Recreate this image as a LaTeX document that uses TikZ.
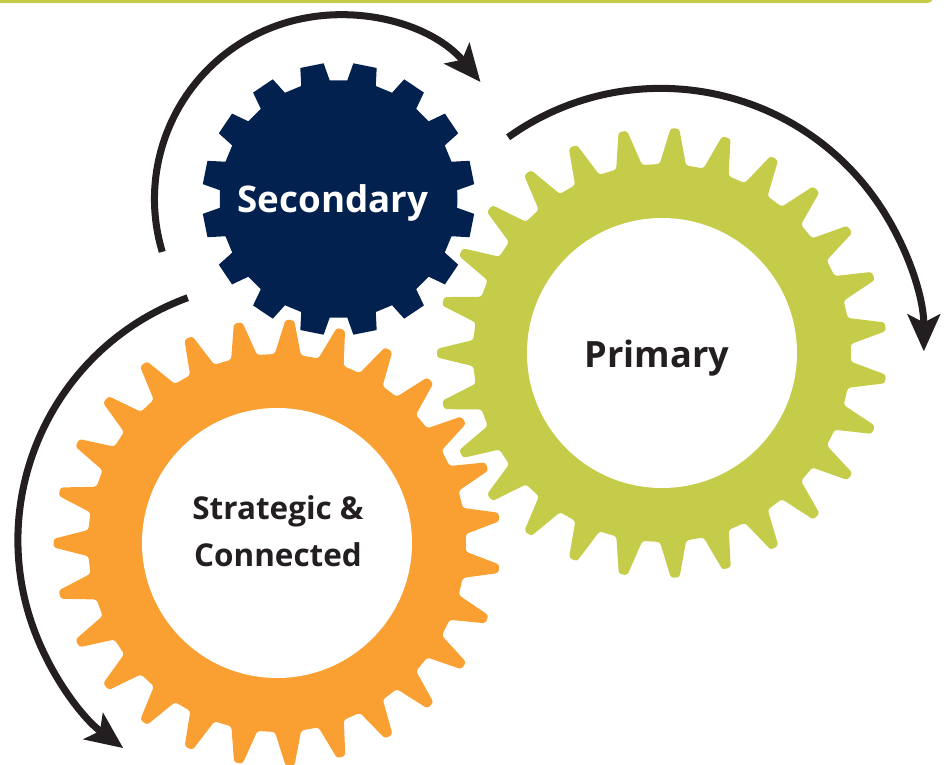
\documentclass[tikz,border=0pt]{standalone}
\usepackage{fontspec}
\setmainfont{Open Sans}
\usetikzlibrary{arrows.meta}
\definecolor{gearnavy}{HTML}{03214F}
\definecolor{gearolive}{HTML}{C4CC49}
\definecolor{gearorange}{HTML}{FAA033}
\definecolor{arrowdark}{HTML}{231F20}
\tikzset{
    hub/.style={circle,fill=white,minimum size=2.7cm,inner sep=0pt},
    label/.style={font=\bfseries\fontsize{#1}{13.4}\selectfont,text=arrowdark,align=center},
    turn/.style={draw=arrowdark,line width=2pt,-{Stealth[length=10.5pt,width=9.2pt,inset=2.3pt]}}
}
% #1 colour, #2 centre, #3 teeth, #4 first tooth, #5 root radius, #6 tip radius, #7 base half angle, #8 tip half angle
\newcommand{\gear}[8]{%
    \fill[#1,shift={(#2)}] (#4-180/#3:#5)
        foreach \t [evaluate=\t as \a using #4+(\t-1)*360/#3] in {1,...,#3}
        { -- (\a-#7:#5) -- (\a-#8:#6) -- (\a+#8:#6) -- (\a+#7:#5) } -- cycle;
}
\begin{document}
\begin{tikzpicture}[scale=1]
    \clip (0,0) rectangle (9.46,7.64);
    \fill[gearolive,rounded corners=1.5pt] (-0.2,7.61) rectangle (9.33,7.8);

    \coordinate (secondarycentre) at (3.385,5.65);
    \coordinate (primarycentre) at (6.62,4.11);
    \coordinate (strategiccentre) at (2.77,2.21);

    \gear{gearnavy}{secondarycentre}{16}{11.25}{1.19}{1.365}{7}{5}
    \begin{scope}[rounded corners=0.8pt]
        \gear{gearolive}{primarycentre}{27}{86.7}{1.89}{2.25}{4}{1.1}
        \gear{gearorange}{strategiccentre}{27}{86.7}{1.89}{2.235}{4}{1.1}
    \end{scope}

    \node [hub] (primaryhub) at (primarycentre) {};
    \node [hub] (strategichub) at (strategiccentre) {};

    \node [label=10.45,text=white] (secondary) at (3.33,5.61) {Secondary};
    \node [label=10.3] (primary) at (6.57,4.06) {Primary};
    \node [label=8.95] (strategic) at (2.78,2.33) {Strategic \&\\Connected};

    \draw [turn] ([shift={(196.7:1.84)}]secondarycentre) arc [start angle=196.7,end angle=39.5,radius=1.84];
    \draw [turn] ([shift={(125.5:2.65)}]primarycentre) arc [start angle=125.5,end angle=0,radius=2.63];
    \draw [turn] ([shift={(110:2.61)}]strategiccentre) arc [start angle=110,end angle=233.7,radius=2.58];
\end{tikzpicture}
\end{document}
